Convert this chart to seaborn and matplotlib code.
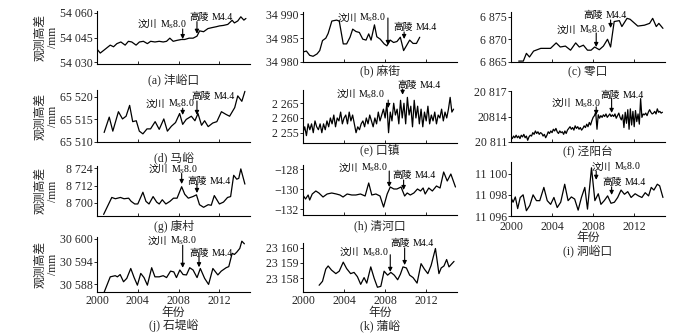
import numpy as np
import matplotlib
matplotlib.use('Agg')
import matplotlib.pyplot as plt
from matplotlib.offsetbox import TextArea, HPacker, AnnotationBbox
import seaborn as sns

# ---------------- data ----------------
yrs_a = [2000.0, 2000.32, 2000.71, 2001.3, 2001.62, 2001.95, 2002.34, 2002.76, 2003.08, 2003.41,
         2003.83, 2004.16, 2004.55, 2004.94, 2005.26, 2005.68, 2006.1, 2006.49, 2006.82, 2007.14,
         2007.47, 2007.86, 2008.28, 2008.6, 2009.03, 2009.42, 2009.8, 2010.06, 2010.45, 2010.88,
         2011.3, 2011.69, 2012.01, 2012.4, 2012.82, 2013.25, 2013.47, 2013.8, 2014.1, 2014.4, 2014.6]
val_a = [54038, 54035.6, 54037.5, 54040.4, 54039.4, 54041.3, 54042.3, 54040.4, 54042.7, 54042.3,
         54040.4, 54042.3, 54042.7, 54041.3, 54042.7, 54042.3, 54042.7, 54042.3, 54042.7, 54044.6,
         54042.7, 54043.3, 54043.8, 54043.8, 54044.6, 54044.6, 54045.8, 54049, 54048.5, 54050.4,
         54051, 54051.5, 54052, 54052.3, 54052.9, 54055.4, 54053.8, 54055, 54057.5, 54055.5, 54056.5]

yrs_b = [2000.0, 2000.33, 2000.65, 2000.98, 2001.37, 2001.63, 2001.9, 2002.22, 2002.45, 2002.81,
         2003.27, 2003.53, 2003.92, 2004.25, 2004.58, 2004.84, 2005.16, 2005.49, 2005.82, 2006.14,
         2006.4, 2006.63, 2006.96, 2007.19, 2007.52, 2007.91, 2008.17, 2008.5, 2008.82, 2009.15,
         2009.48, 2009.8, 2010.07, 2010.39, 2010.72, 2011.05, 2011.37]
val_b = [34982.1, 34982.3, 34981.4, 34981.2, 34981.7, 34982.4, 34984.5, 34985.0, 34986.0, 34988.6,
         34988.8, 34988.6, 34983.8, 34983.8, 34985.2, 34986.9, 34986.4, 34986.2, 34984.8, 34984.6,
         34985.9, 34984.6, 34987.8, 34985.3, 34984.8, 34983.8, 34983.4, 34984.6, 34984.1, 34984.3,
         34985.2, 34982.4, 34983.4, 34984.6, 34983.9, 34983.9, 34985.2]

yrs_c = [2000.75, 2001.2, 2001.5, 2001.8, 2002.2, 2002.9, 2003.4, 2003.85, 2004.4, 2004.8,
         2005.3, 2005.8, 2006.3, 2006.65, 2007.05, 2007.45, 2007.8, 2008.15, 2008.6, 2009.0,
         2009.4, 2009.7, 2010.05, 2010.55, 2010.8, 2011.3, 2011.6, 2012.35, 2013.0, 2013.5,
         2013.8, 2014.15, 2014.4, 2014.8]
val_c = [6865.2, 6865.2, 6866.9, 6866.1, 6867.4, 6868.0, 6868.0, 6868.0, 6869.2, 6868.3,
         6868.5, 6867.6, 6869.2, 6868.3, 6868.7, 6867.6, 6867.6, 6868.3, 6867.7, 6868.5,
         6870.0, 6868.3, 6873.9, 6874.1, 6872.8, 6874.6, 6874.4, 6872.9, 6873.1, 6873.5,
         6874.6, 6872.8, 6873.5, 6872.4]

yrs_d = [2000.7, 2001.2, 2001.55, 2002.1, 2002.5, 2002.85, 2003.2, 2003.5, 2003.85, 2004.15,
         2004.5, 2004.9, 2005.25, 2005.7, 2006.1, 2006.55, 2006.9, 2007.3, 2007.7, 2008.1,
         2008.4, 2008.75, 2009.25, 2009.6, 2009.9, 2010.25, 2010.55, 2010.9, 2011.35, 2011.75,
         2012.2, 2012.65, 2013.0, 2013.5, 2013.8, 2014.2, 2014.5]
val_d = [65512.1, 65515.5, 65512.4, 65516.7, 65515.1, 65515.7, 65518.1, 65514.5, 65514.7, 65512.4,
         65511.8, 65512.9, 65512.9, 65514.5, 65512.8, 65515.1, 65512.4, 65513.5, 65514.3, 65516.3,
         65513.9, 65515.0, 65515.7, 65514.7, 65516.3, 65513.7, 65514.7, 65513.4, 65514.2, 65514.5,
         65516.7, 65516.1, 65515.7, 65517.6, 65520.2, 65519.0, 65521.2]

# 口镇: two-monthly readings from 2000.0
val_e = [2255, 2257, 2254, 2258, 2256, 2258,
         2255, 2259, 2257, 2256, 2258, 2255,
         2258, 2256, 2259, 2257, 2260, 2258,
         2261, 2257, 2260, 2259, 2262, 2258,
         2260, 2261, 2258, 2262, 2259, 2261,
         2258, 2255, 2257, 2256, 2258, 2259,
         2257, 2260, 2258, 2261, 2259, 2257,
         2260, 2258, 2262, 2259, 2261, 2263,
         2260, 2265, 2255, 2262, 2259, 2265,
         2261, 2263, 2258, 2266, 2260, 2265,
         2258, 2267, 2261, 2264, 2257, 2266,
         2260, 2264, 2258, 2263, 2257, 2262,
         2259, 2264, 2258, 2261, 2259, 2262,
         2258, 2261, 2260, 2263, 2259, 2262,
         2260, 2263, 2267, 2262, 2263]
yrs_e = 2000 + np.arange(len(val_e)) / 6

# 泾阳台: eight readings a year from 2000.0
val_f = [20811.6, 20811.4, 20811.7, 20811.5, 20811.8, 20811.5, 20811.7, 20811.4,
         20811.8, 20811.6, 20811.9, 20811.5, 20811.7, 20811.2, 20811.6, 20811.8,
         20811.7, 20812.1, 20811.9, 20812.3, 20812.0, 20812.2, 20811.9, 20812.1,
         20812.0, 20811.7, 20811.9, 20811.5, 20811.8, 20812.2, 20812.0, 20812.3,
         20812.1, 20812.5, 20812.3, 20812.6, 20812.2, 20812.0, 20812.3, 20812.1,
         20812.2, 20811.9, 20812.3, 20812.0, 20812.4, 20812.6, 20812.8, 20812.5,
         20812.7, 20812.4, 20812.9, 20812.6, 20812.8, 20812.5, 20812.7, 20812.4,
         20812.6, 20812.9, 20812.7, 20813.1, 20812.8, 20813.3, 20813.0, 20813.5,
         20813.9, 20814.1, 20814.5, 20812.5, 20814.2, 20813.8, 20814.1, 20813.9,
         20814.2, 20814.0, 20814.3, 20813.9, 20814.1, 20814.3, 20814.0, 20814.2,
         20814.0, 20814.3, 20813.8, 20814.1, 20814.4, 20813.9, 20813.6, 20814.2,
         20812.7, 20814.5, 20813.2, 20814.8, 20812.5, 20814.9, 20813.0, 20814.6,
         20812.8, 20814.7, 20813.4, 20814.3, 20813.1, 20816.1, 20813.9, 20814.3,
         20814.2, 20814.4, 20814.1, 20814.5, 20814.8, 20814.5, 20814.3, 20814.4,
         20814.6, 20814.3, 20814.9, 20814.5, 20814.6, 20814.4, 20814.5]
yrs_f = 2000 + np.arange(len(val_f)) / 8

yrs_g = [2000.65, 2001.45, 2001.8, 2002.3, 2002.65, 2003.1, 2003.35, 2003.7, 2004.0, 2004.5,
         2004.8, 2005.1, 2005.5, 2005.85, 2006.1, 2006.4, 2006.75, 2007.15, 2007.5, 2007.85,
         2008.3, 2008.6, 2008.95, 2009.4, 2009.75, 2010.05, 2010.45, 2010.9, 2011.2, 2011.5,
         2012.0, 2012.4, 2012.8, 2013.1, 2013.4, 2013.7, 2013.9, 2014.1, 2014.5]
val_g = [8692.1, 8703.8, 8702.9, 8703.8, 8702.9, 8703.3, 8701.1, 8699.3, 8699.3, 8707.4,
         8701.1, 8699.3, 8704.4, 8700.6, 8699.3, 8702.2, 8699.3, 8701.1, 8703.3, 8703.3,
         8711.2, 8706.0, 8703.3, 8704.4, 8705.6, 8698.8, 8697.0, 8698.8, 8698.4, 8705.1,
         8699.3, 8700.6, 8703.8, 8704.4, 8719.1, 8716.4, 8717.0, 8723.5, 8713.0]

yrs_h = [2000.05, 2000.25, 2000.5, 2000.65, 2000.9, 2001.25, 2001.55, 2001.95, 2002.35, 2002.8,
         2003.25, 2003.6, 2003.9, 2004.3, 2004.75, 2005.15, 2005.6, 2006.05, 2006.4, 2006.7,
         2007.1, 2007.5, 2007.85, 2008.2, 2008.5, 2008.85, 2009.15, 2009.55, 2009.9, 2010.15,
         2010.45, 2010.8, 2011.15, 2011.45, 2011.7, 2011.9, 2012.25, 2012.6, 2013.0, 2013.35,
         2013.7, 2014.05, 2014.4, 2014.85]
val_h = [-130.7, -131.0, -130.6, -131.1, -130.5, -130.2, -130.4, -130.8, -130.5, -130.4,
         -130.5, -130.6, -130.8, -130.5, -130.6, -130.6, -130.5, -130.7, -129.4, -130.6,
         -130.5, -130.7, -131.8, -130.5, -129.8, -130.0, -130.0, -129.8, -130.7, -130.4,
         -130.6, -130.4, -130.0, -130.2, -129.9, -130.5, -129.9, -130.2, -129.7, -129.9,
         -128.3, -129.2, -128.5, -129.8]

yrs_i = [2000.0, 2000.2, 2000.42, 2000.65, 2000.9, 2001.18, 2001.5, 2001.83, 2002.15, 2002.48,
         2002.8, 2003.2, 2003.53, 2003.86, 2004.18, 2004.5, 2004.84, 2005.23, 2005.56, 2005.88,
         2006.2, 2006.54, 2006.86, 2007.19, 2007.45, 2007.84, 2008.17, 2008.5, 2008.76, 2009.08,
         2009.41, 2009.74, 2010.07, 2010.39, 2010.72, 2011.05, 2011.37, 2011.7, 2012.09, 2012.42,
         2012.75, 2013.07, 2013.4, 2013.66, 2013.92, 2014.25, 2014.48, 2014.8]
val_i = [11097.75, 11097.3, 11097.8, 11096.7, 11097.75, 11098.0, 11096.5, 11097.0, 11098.0, 11097.45,
         11097.45, 11098.7, 11097.45, 11097.1, 11097.75, 11096.8, 11097.3, 11099.0, 11097.45, 11097.8,
         11097.6, 11096.55, 11097.75, 11098.7, 11096.65, 11100.55, 11097.45, 11098.1, 11097.1, 11097.45,
         11097.9, 11097.2, 11097.3, 11097.75, 11098.45, 11098.05, 11098.3, 11097.75, 11098.1, 11097.9,
         11097.75, 11098.2, 11097.9, 11098.7, 11098.45, 11099.0, 11098.85, 11097.75]

yrs_j = [2000.71, 2001.3, 2001.79, 2002.0, 2002.27, 2002.6, 2002.92, 2003.31, 2003.64, 2003.96,
         2004.29, 2004.61, 2004.94, 2005.36, 2005.68, 2006.1, 2006.49, 2006.82, 2007.21, 2007.53,
         2007.79, 2008.12, 2008.44, 2008.77, 2009.09, 2009.42, 2009.81, 2010.13, 2010.55, 2010.94,
         2011.36, 2011.85, 2012.18, 2012.66, 2012.92, 2013.25, 2013.47, 2013.7, 2014.0, 2014.2, 2014.45]
val_j = [30586.0, 30590.0, 30590.3, 30590.0, 30590.6, 30588.7, 30589.6, 30592.2, 30589.8, 30587.8,
         30590.9, 30589.8, 30587.8, 30592.4, 30590.0, 30590.0, 30590.3, 30589.8, 30591.5, 30591.3,
         30589.8, 30591.8, 30590.6, 30590.5, 30592.4, 30591.8, 30589.8, 30592.2, 30589.6, 30588.0,
         30592.2, 30590.5, 30591.5, 30592.4, 30592.7, 30596.2, 30595.9, 30596.5, 30597.5, 30599.4, 30598.7]

yrs_k = [2001.57, 2001.9, 2002.22, 2002.45, 2002.78, 2003.2, 2003.53, 2003.92, 2004.25, 2004.64,
         2004.97, 2005.3, 2005.62, 2005.95, 2006.21, 2006.6, 2006.93, 2007.25, 2007.58, 2007.9,
         2008.24, 2008.56, 2008.89, 2009.22, 2009.48, 2009.74, 2010.07, 2010.39, 2010.72, 2011.11,
         2011.5, 2011.83, 2012.16, 2012.48, 2012.9, 2013.24, 2013.46, 2013.73, 2013.99, 2014.22, 2014.71]
val_k = [23157.54, 23157.8, 23158.6, 23158.8, 23158.53, 23158.3, 23158.46, 23159.05, 23158.63, 23158.3,
         23158.38, 23158.1, 23157.6, 23158.04, 23157.68, 23158.74, 23158.0, 23157.41, 23157.47, 23158.46,
         23158.2, 23158.38, 23158.2, 23157.9, 23158.25, 23158.74, 23158.67, 23158.2, 23158.04, 23157.68,
         23158.95, 23158.59, 23158.3, 23158.84, 23159.94, 23158.3, 23158.67, 23158.8, 23159.22, 23158.74, 23159.1]

names = ['(a) 沣峪口', '(b) 麻街', '(c) 零口', '(d) 马峪', '(e) 口镇', '(f) 泾阳台',
         '(g) 康村', '(h) 清河口', '(i) 洞峪口', '(j) 石堤峪', '(k) 蒲峪']
yticks = [[54030, 54045, 54060], [34980, 34985, 34990], [6865, 6870, 6875],
          [65510, 65515, 65520], [2255, 2260, 2265], [20811, 20814, 20817],
          [8700, 8712, 8724], [-132, -130, -128], [11096, 11098, 11100],
          [30588, 30594, 30600], [23158, 23159, 23160]]
ylabels = [['54 030', '54 045', '54 060'], ['34 980', '34 985', '34 990'], ['6 865', '6 870', '6 875'],
           ['65 510', '65 515', '65 520'], ['2 255', '2 260', '2 265'], ['20 811', '20814', '20 817'],
           ['8 700', '8 712', '8 724'], ['−132', '−130', '−128'], ['11 096', '11 098', '11 100'],
           ['30 588', '30 594', '30 600'], ['23 158', '23 159', '23 160']]
xticks = [2000, 2004, 2008, 2012]
# earthquake labels: Chinese place name + magnitude
eq_wc = ('汶川', 'M$_{\\rm S}$8.0')
eq_gl = ('高陵', 'M4.4')

series = [(yrs_a, val_a), (yrs_b, val_b), (yrs_c, val_c), (yrs_d, val_d), (yrs_e, val_e),
          (yrs_f, val_f), (yrs_g, val_g), (yrs_h, val_h), (yrs_i, val_i), (yrs_j, val_j),
          (yrs_k, val_k)]

# ---------------- layout ----------------
sns.set_theme(style='ticks')
plt.rcParams['font.family'] = ['Liberation Serif', 'Noto Sans CJK SC']
plt.rcParams['mathtext.fontset'] = 'custom'
plt.rcParams['mathtext.rm'] = 'Liberation Serif'
plt.rcParams['axes.unicode_minus'] = False

W, H = 700, 336
fig = plt.figure(figsize=(7, 3.36), dpi=100)

# pixel boxes: left, top, right, bottom
boxes = [(97, 11, 250, 64), (303, 12, 457, 62), (511, 12, 665, 62),
         (97, 90, 250, 142), (303, 90, 457, 143), (511, 91, 665, 142),
         (97, 166, 250, 216), (303, 165, 457, 215), (511, 162, 665, 216),
         (97, 237, 250, 292), (303, 243, 457, 292)]
ylims = [(54029, 54061), (34980, 34990.5), (6865, 6876), (65510, 65521.5), (2251.5, 2269.5),
         (20811, 20817), (8691, 8725.5), (-132.6, -127.6), (11096, 11101.1),
         (30586, 30600.5), (23157.1, 23160.3)]
cap_y = [80, 71, 71, 158, 150, 152, 226, 226, 251, 326, 326]
# annotations: (arrow x, arrow start frac, arrow tip frac, text x, text y frac, ha)
ann = [
    [(2008.4, 0.66, 0.47, 2008.8, 0.75, 'right'), (2009.8, 0.80, 0.57, 2009.1, 0.88, 'left')],
    [(2008.27, 0.88, 0.34, 2008.1, 0.88, 'right'), (2009.85, 0.60, 0.46, 2008.8, 0.70, 'left')],
    [(2008.3, 0.58, 0.30, 2009.2, 0.64, 'right'), (2009.7, 0.84, 0.68, 2007.1, 0.94, 'left')],
    [(2008.4, 0.65, 0.52, 2009.6, 0.73, 'right'), (2009.8, 0.79, 0.52, 2009.3, 0.87, 'left')],
    [(2008.3, 0.81, 0.66, 2008.0, 0.91, 'right'), (2009.7, 1.02, 0.91, 2009.2, 1.08, 'left')],
    [(2008.3, 0.69, 0.53, 2008.7, 0.76, 'right'), (2009.8, 0.86, 0.57, 2008.7, 0.92, 'left')],
    [(2008.3, 0.85, 0.64, 2009.9, 0.93, 'right'), (2009.8, 0.63, 0.46, 2008.9, 0.70, 'left')],
    [(2008.4, 0.88, 0.56, 2008.2, 0.94, 'right'), (2009.8, 0.70, 0.50, 2008.7, 0.80, 'left')],
    [(2008.3, 0.83, 0.67, 2007.9, 0.91, 'left'), (2009.8, 0.54, 0.39, 2008.9, 0.63, 'left')],
    [(2008.4, 0.85, 0.44, 2009.8, 0.93, 'right'), (2010.0, 0.64, 0.45, 2009.1, 0.71, 'left')],
    [(2008.5, 0.76, 0.41, 2008.3, 0.80, 'right'), (2009.9, 0.90, 0.55, 2008.5, 1.00, 'left')],
]
tp = dict(fontsize=7, color='black')

for k, (yr, val) in enumerate(series):
    l, t, r, b = boxes[k]
    ax = fig.add_axes([l / W, 1 - b / H, (r - l) / W, (b - t) / H])
    sns.lineplot(x=np.asarray(yr), y=np.asarray(val), ax=ax, color='black', linewidth=0.9)
    ax.set_xlim(2000, 2015)
    ax.set_ylim(*ylims[k])
    ax.set_xticks(xticks)
    ax.set_yticks(yticks[k])
    ax.set_yticklabels(ylabels[k])
    ax.tick_params(axis='y', direction='out', length=2, width=0.7, pad=1, labelsize=8.5)
    ax.tick_params(axis='x', direction='in', length=2.5, width=0.7,
                   pad=3.5 if k == 8 else 2.5, labelsize=8.5)
    if k not in (8, 9, 10):
        ax.set_xticklabels([])
    ax.set_xlabel('')
    ax.set_ylabel('')
    sns.despine(ax=ax)
    for s in ('left', 'bottom'):
        ax.spines[s].set_linewidth(0.8)
        ax.spines[s].set_color('black')

    for (xa, y0, y1, xt, yt, ha), (place, mag) in zip(ann[k], [eq_wc, eq_gl]):
        ax.annotate('', xy=(xa, y1), xytext=(xa, y0),
                    xycoords=('data', 'axes fraction'), textcoords=('data', 'axes fraction'),
                    arrowprops=dict(arrowstyle='-|>', color='black', lw=0.8, mutation_scale=6,
                                    shrinkA=0, shrinkB=0))
        box = HPacker(children=[TextArea(place, textprops=tp), TextArea(mag, textprops=tp)],
                      align='baseline', pad=0, sep=2)
        ab = AnnotationBbox(box, (xt, yt), xycoords=ax.get_xaxis_transform(),
                            box_alignment=(1 if ha == 'right' else 0, 0.5),
                            frameon=False, pad=0, annotation_clip=False)
        ax.add_artist(ab)

    fig.text((l + r) / 2 / W, 1 - cap_y[k] / H, names[k], ha='center', va='center', fontsize=8.5)
    if k in (8, 9, 10):
        ny = 238 if k == 8 else 313
        fig.text((l + r) / 2 / W, 1 - ny / H, '年份', ha='center', va='center', fontsize=8.5)
    if l == 97:
        fig.text(47 / W, 1 - (t + b) / 2 / H, '观测高差\n/mm', rotation=90, ha='center',
                 va='center', fontsize=8.5, linespacing=1.1)

fig.savefig('out.png', dpi=100, facecolor='white')
